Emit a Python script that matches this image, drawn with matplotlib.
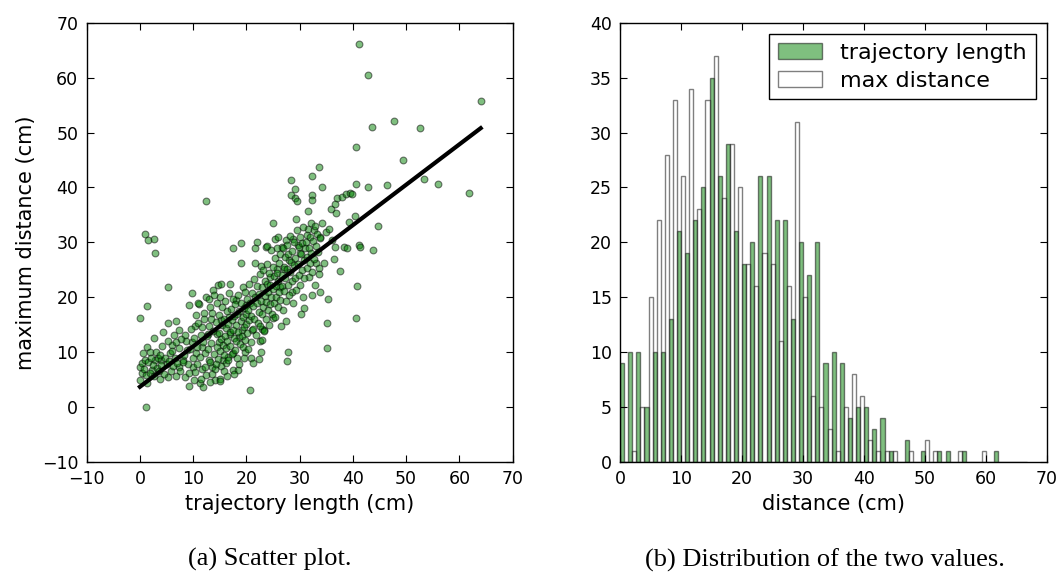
import numpy as np
import matplotlib
matplotlib.use("Agg")
import matplotlib.pyplot as plt

# ── scatter data (trajectory length, max distance, cm) ──
pts = [
    (0.0, 16.2), (1.3, 18.4), (0.0, 7.3), (0.3, 8.0), (0.0, 5.0), (0.9, 8.6), (1.4, 4.3),
    (1.3, 11.0), (1.9, 10.1), (2.6, 12.5), (2.8, 8.6), (2.2, 6.7), (3.8, 5.2), (3.9, 8.6),
    (3.4, 8.9), (4.4, 13.7), (5.3, 15.4), (5.3, 5.5), (5.6, 9.8), (6.1, 11.3), (6.8, 15.7),
    (6.8, 5.6), (7.4, 14.0), (7.3, 7.3), (6.4, 13.1), (8.1, 8.6), (8.5, 13.1), (8.8, 10.4),
    (9.2, 3.8), (9.7, 20.8), (9.3, 18.6), (9.7, 11.9), (10.0, 7.3), (10.3, 14.8), (11.1, 18.8),
    (10.6, 9.8), (11.3, 4.3), (11.9, 3.6), (11.6, 11.0), (12.0, 17.1), (12.5, 20.1), (12.8, 13.4),
    (13.0, 8.6), (13.1, 18.3), (13.5, 7.3), (13.8, 21.3), (14.1, 4.9), (14.4, 13.4), (14.7, 22.2),
    (14.9, 11.9), (15.0, 5.2), (15.3, 15.8), (15.6, 8.6), (16.1, 8.0), (16.6, 9.2), (16.7, 16.5),
    (17.0, 13.4), (17.5, 6.7), (17.5, 9.8), (18.0, 19.5), (18.5, 6.7), (18.7, 12.8), (19.1, 14.0),
    (19.4, 21.9), (19.8, 10.1), (20.0, 18.6), (20.6, 3.2), (20.8, 8.9), (21.1, 14.0), (21.3, 8.1),
    (21.6, 26.2), (21.7, 28.9), (22.0, 30.1), (22.3, 8.7), (22.5, 12.1), (22.8, 10.1), (22.9, 12.2),
    (22.8, 25.7), (23.0, 14.3), (23.3, 14.0), (23.7, 29.2), (23.9, 29.3), (24.4, 23.7), (24.9, 16.2),
    (24.9, 33.5), (25.4, 30.7), (25.7, 25.1), (25.9, 30.9), (26.3, 21.9), (26.5, 14.8), (26.6, 29.2),
    (27.0, 25.1), (27.4, 30.4), (27.5, 15.7), (27.7, 8.4), (27.9, 10.0), (28.0, 26.8), (28.4, 41.3),
    (28.4, 38.6), (28.5, 21.0), (28.8, 30.7), (29.1, 39.8), (29.1, 38.0), (29.3, 34.2), (29.5, 37.5),
    (29.7, 29.6), (30.0, 28.0), (30.2, 16.9), (30.7, 20.1), (30.9, 18.0), (31.3, 31.3), (31.6, 32.4),
    (31.8, 23.7), (32.1, 33.6), (32.4, 42.1), (32.4, 38.7), (32.4, 37.8), (32.4, 20.4), (32.6, 32.2),
    (32.9, 22.2), (33.1, 26.2), (33.6, 43.8), (33.7, 25.3), (33.8, 20.9), (33.9, 30.9), (34.2, 40.0),
    (34.2, 33.6), (34.6, 26.2), (34.9, 31.9), (35.1, 15.4), (35.2, 10.7), (35.3, 19.6), (35.6, 32.5),
    (35.8, 36.0), (36.0, 30.4), (36.4, 26.9), (36.7, 37.0), (36.7, 29.1), (36.9, 35.3), (37.1, 38.1),
    (37.6, 24.8), (37.9, 38.3), (38.3, 29.2), (38.7, 38.9), (38.8, 28.9), (39.2, 33.8), (39.4, 39.0),
    (39.9, 38.9), (40.4, 34.8), (40.6, 47.4), (40.6, 40.6), (40.6, 16.2), (40.8, 22.0), (41.2, 66.1),
    (41.2, 29.5), (41.4, 29.2), (42.9, 60.5), (42.9, 40.0), (43.5, 51.1), (43.7, 28.6), (44.8, 33.0),
    (46.4, 40.4), (47.8, 52.1), (49.5, 45.0), (52.6, 50.9), (53.4, 41.6), (55.9, 40.6), (61.8, 39.0),
    (64.0, 55.7), (1.0, 31.6), (1.6, 30.4), (2.6, 30.6), (2.9, 28.0), (12.5, 37.6), (17.5, 29.0),
    (19.0, 29.8), (19.0, 26.2), (5.3, 21.8), (1.1, 0.0),
    # dense core
    (8.3, 9.5), (8.7, 12.0), (9.0, 7.8), (9.4, 10.6), (9.6, 14.2), (9.9, 8.9), (10.2, 12.5),
    (10.4, 6.4), (10.7, 10.9), (10.9, 15.3), (11.2, 9.1), (11.4, 13.2), (11.6, 7.0), (11.8, 11.8),
    (12.1, 16.0), (12.2, 9.9), (12.4, 5.8), (12.6, 12.9), (12.8, 10.5), (13.0, 14.8), (13.2, 8.2),
    (13.3, 11.6), (13.5, 17.2), (13.7, 13.9), (13.9, 9.6), (14.1, 6.9), (14.2, 15.5), (14.4, 11.0),
    (14.5, 18.9), (14.6, 8.8),
    (14.8, 13.5), (14.9, 16.8), (15.0, 10.2), (15.1, 20.0), (15.2, 12.4), (15.3, 7.4), (15.4, 14.9),
    (15.5, 18.2), (15.6, 11.3), (15.7, 9.5), (15.8, 16.0), (15.9, 13.0), (16.0, 19.3), (16.1, 14.4),
    (16.2, 10.8), (16.3, 17.5), (16.4, 12.1), (16.5, 8.6), (16.6, 15.2), (16.8, 20.8), (16.9, 13.6),
    (17.0, 11.2), (17.1, 17.9), (17.2, 15.8), (17.3, 9.7), (17.4, 14.1), (17.5, 19.7), (17.6, 12.6),
    (17.7, 16.6), (17.8, 10.4), (17.9, 18.8), (18.0, 14.9), (18.1, 12.0), (18.2, 16.9), (18.3, 8.9),
    (18.4, 20.4), (18.5, 13.7), (18.6, 17.5), (18.8, 11.5), (18.9, 15.6), (19.0, 19.0), (19.1, 13.0),
    (19.3, 16.4), (19.4, 10.9), (19.5, 18.1), (19.6, 14.6), (19.7, 21.0), (19.8, 12.3), (19.9, 17.0),
    (20.0, 15.2),
    (20.1, 19.6), (20.2, 13.5), (20.3, 17.7), (20.4, 22.4), (20.5, 15.8), (20.7, 19.0), (20.8, 11.9),
    (20.9, 16.6), (21.0, 20.8), (21.2, 14.2), (21.3, 18.4), (21.4, 23.3), (21.5, 16.0), (21.7, 20.0),
    (21.8, 13.1), (21.9, 18.9), (22.0, 22.0), (22.1, 15.4), (22.3, 17.3), (22.4, 20.6), (22.5, 24.3),
    (22.6, 14.8), (22.7, 19.3), (22.9, 16.9), (23.0, 21.9), (23.1, 25.0), (23.2, 18.3), (23.3, 13.9),
    (23.4, 20.2), (23.5, 23.0), (23.6, 16.1), (23.7, 19.1), (23.8, 22.4), (23.9, 26.0), (24.0, 17.6),
    (24.1, 20.9), (24.2, 15.0), (24.3, 24.5), (24.4, 18.8), (24.5, 22.2), (24.6, 28.6), (24.7, 20.1),
    (24.8, 17.0), (24.9, 25.6), (25.0, 21.6), (25.1, 19.0), (25.2, 23.8), (25.3, 27.2), (25.4, 16.5),
    (25.5, 22.0), (25.6, 20.0), (25.7, 24.5), (25.8, 29.0), (25.9, 18.2), (26.0, 23.0), (26.1, 26.2),
    (26.2, 21.0), (26.3, 27.8), (26.4, 19.5), (26.6, 24.0), (26.7, 22.0), (26.8, 28.9), (26.9, 17.7),
    (27.0, 25.6),
    (27.1, 21.2), (27.2, 27.3), (27.3, 23.5), (27.4, 19.4), (27.6, 29.6), (27.7, 25.1), (27.8, 22.3),
    (27.9, 27.9), (28.0, 20.5), (28.1, 24.6), (28.2, 31.2), (28.3, 26.5), (28.5, 22.9), (28.6, 28.5),
    (28.7, 18.9), (28.9, 25.8), (29.0, 30.0), (29.1, 23.6), (29.2, 27.2), (29.4, 21.3), (29.5, 32.3),
    (29.6, 26.0), (29.8, 29.2), (29.9, 24.0), (30.0, 30.9), (30.1, 22.2), (30.3, 27.8), (30.4, 25.0),
    (30.5, 29.9), (30.6, 32.8), (30.8, 26.8), (30.9, 23.5), (31.0, 28.9), (31.2, 30.0), (31.3, 25.4),
    (31.4, 27.4), (31.5, 35.8), (31.7, 29.0), (31.9, 26.3), (32.0, 31.0), (32.2, 28.0), (32.3, 24.6),
    (32.5, 30.2), (32.7, 27.0), (32.8, 33.0), (33.0, 29.4), (33.2, 31.5), (33.4, 28.2), (33.6, 24.2),
    (33.8, 30.8),
    (0.4, 6.2), (0.6, 9.8), (0.8, 7.0), (1.2, 5.8), (1.5, 8.3), (1.8, 6.2), (2.0, 9.0), (2.4, 7.7),
    (2.7, 5.6), (3.0, 10.0), (3.2, 7.2), (3.5, 6.5), (3.7, 9.4), (4.0, 7.7), (4.2, 11.2), (4.5, 6.0),
    (4.7, 9.0), (5.0, 7.9), (5.2, 12.0), (5.5, 8.4), (5.8, 6.6), (6.0, 10.3), (6.3, 7.5), (6.5, 9.0),
    (6.8, 11.9), (7.0, 8.0), (7.3, 10.7), (7.6, 6.5), (7.8, 12.4), (8.0, 8.3),
    (8.5, 5.4), (9.2, 6.3), (10.1, 5.0), (10.8, 7.9), (11.5, 5.2), (12.3, 7.3), (13.1, 4.6),
    (13.6, 6.0), (14.3, 7.8), (15.0, 4.8), (15.8, 6.5), (16.4, 5.7), (10.5, 16.8), (11.0, 19.0),
    (11.7, 14.5), (12.9, 19.6), (13.4, 16.0), (14.0, 20.5), (15.2, 22.5), (16.9, 22.4), (17.6, 6.0),
    (18.7, 7.8), (19.5, 9.0), (20.3, 10.5),
]
traj_len = np.array([p[0] for p in pts])
max_dist = np.array([p[1] for p in pts])

# fitted line as drawn
fit_x = [0.0, 64.0]
fit_y = [3.7, 50.8]

# ── histogram counts per bin (50 bins) ──
hist_lo, hist_hi, n_bins = 0.0, 66.75, 50
traj_counts = [9, 10, 10, 5, 10, 10, 13, 21, 19, 22,
               25, 35, 26, 29, 21, 18, 20, 26, 26, 22,
               22, 13, 20, 17, 20, 9, 10, 9, 4, 5,
               5, 3, 4, 1, 0, 2, 0, 1, 0, 1,
               1, 0, 1, 0, 0, 0, 1, 0, 0, 0]
dist_counts = [0, 1, 5, 15, 22, 28, 33, 26, 34, 23,
               33, 37, 24, 29, 25, 18, 16, 19, 18, 11,
               16, 31, 15, 6, 5, 3, 1, 5, 8, 6,
               2, 1, 1, 1, 0, 1, 0, 2, 1, 0,
               0, 1, 0, 0, 1, 0, 0, 0, 0, 0]

edges = np.linspace(hist_lo, hist_hi, n_bins + 1)
centers = 0.5 * (edges[:-1] + edges[1:])

fig = plt.figure(figsize=(10.57, 5.73), dpi=100, facecolor="white")
ax1 = fig.add_axes([0.082, 0.1937, 0.403, 0.7666])
ax2 = fig.add_axes([0.5866, 0.1937, 0.4037, 0.7666])

# ── (a) scatter ──
ax1.scatter(traj_len, max_dist, s=24, c="green", alpha=0.5, edgecolors="black", linewidths=0.8)
ax1.plot(fit_x, fit_y, color="black", lw=3)
ax1.set_xlim(-10, 70)
ax1.set_ylim(-10, 70)
ax1.set_xticks(range(-10, 71, 10))
ax1.set_yticks(range(-10, 71, 10))
ax1.set_xlabel("trajectory length (cm)", fontsize=15)
ax1.set_ylabel("maximum distance (cm)", fontsize=15)

# ── (b) histogram ──
ax2.hist([centers, centers], bins=edges, weights=[traj_counts, dist_counts],
         color=["green", "white"], alpha=0.5, edgecolor="black", linewidth=1.0,
         rwidth=1.0, label=["trajectory length", "max distance"])
ax2.set_xlim(0, 70)
ax2.set_ylim(0, 40)
ax2.set_xticks(range(0, 71, 10))
ax2.set_yticks(range(0, 41, 5))
ax2.set_xlabel("distance (cm)", fontsize=15)
leg = ax2.legend(loc="upper right", fontsize=16, fancybox=False, framealpha=1,
                 handlelength=2.0, borderpad=0.4, labelspacing=0.35, handletextpad=0.8)
leg.get_frame().set_edgecolor("black")

for ax in (ax1, ax2):
    ax.tick_params(direction="in", top=True, right=True, length=5, labelsize=12.5, pad=6)
    for sp in ax.spines.values():
        sp.set_linewidth(1.0)

fig.text(0.255, 0.023, "(a) Scatter plot.", ha="center", va="center", fontsize=19,
         family="Liberation Serif")
fig.text(0.78, 0.023, "(b) Distribution of the two values.", ha="center", va="center",
         fontsize=19, family="Liberation Serif")

fig.savefig("out.png", dpi=100, facecolor="white")
